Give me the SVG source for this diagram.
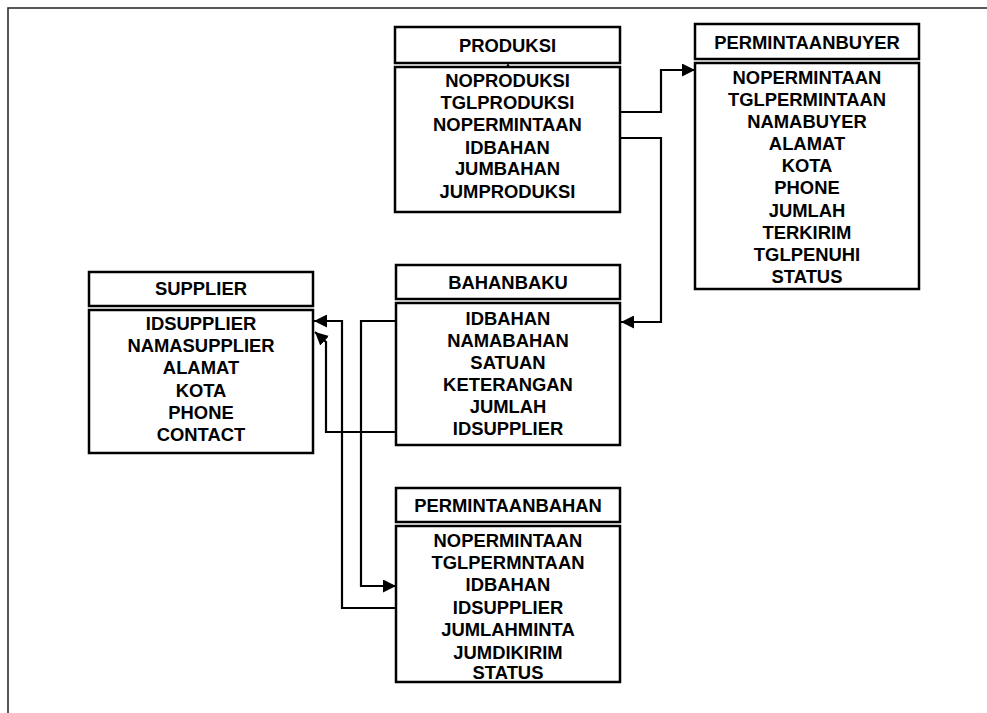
<svg xmlns="http://www.w3.org/2000/svg" width="987" height="713" viewBox="0 0 987 713">
<style>
.box{fill:#fff;stroke:#000;stroke-width:2.5}
.t{font-family:"Liberation Sans",Arial,sans-serif;font-weight:bold;font-size:18.4px;text-anchor:middle;fill:#000}
.c{fill:none;stroke:#000;stroke-width:2.2}
</style>
<defs>
<marker id="ah" markerUnits="userSpaceOnUse" markerWidth="13" markerHeight="13" refX="13" refY="6.5" orient="auto">
<path d="M0,0 L13,6.5 L0,13 z" fill="#000"/>
</marker>
</defs>
<rect width="987" height="713" fill="#fff"/>
<path d="M8,713 V8 H987" fill="none" stroke="#222" stroke-width="1.5"/>
<g id="connectors">
<path class="c" d="M620,112 H661 V70 H695" marker-end="url(#ah)"/>
<path class="c" d="M620,138 H661 V322 H621" marker-end="url(#ah)"/>
<path class="c" d="M396,608 H342 V321 H314" marker-end="url(#ah)"/>
<path class="c" d="M397,321 H361 V586 H396" marker-end="url(#ah)"/>
<path class="c" d="M397,432 H326 V342 L315,332" marker-end="url(#ah)"/>
<path d="M505,69 L511,69 L508,63 z" fill="#000"/>
</g>
<g id="produksi">
<rect class="box" x="395" y="27" width="225" height="36"/>
<rect class="box" x="395" y="67" width="225" height="145"/>
<text class="t" x="507.5" y="51.5">PRODUKSI</text>
<text class="t" x="507.5" y="86.5">NOPRODUKSI</text>
<text class="t" x="507.5" y="108.5">TGLPRODUKSI</text>
<text class="t" x="507.5" y="131">NOPERMINTAAN</text>
<text class="t" x="507.5" y="153.5">IDBAHAN</text>
<text class="t" x="507.5" y="175">JUMBAHAN</text>
<text class="t" x="507.5" y="197.5">JUMPRODUKSI</text>
</g>
<g id="permintaanbuyer">
<rect class="box" x="695" y="24" width="224" height="35"/>
<rect class="box" x="695" y="63" width="224" height="226"/>
<text class="t" x="807" y="48.5">PERMINTAANBUYER</text>
<text class="t" x="807" y="83.5">NOPERMINTAAN</text>
<text class="t" x="807" y="105.5">TGLPERMINTAAN</text>
<text class="t" x="807" y="127.5">NAMABUYER</text>
<text class="t" x="807" y="149.5">ALAMAT</text>
<text class="t" x="807" y="172">KOTA</text>
<text class="t" x="807" y="194">PHONE</text>
<text class="t" x="807" y="216.5">JUMLAH</text>
<text class="t" x="807" y="238.5">TERKIRIM</text>
<text class="t" x="807" y="260.5">TGLPENUHI</text>
<text class="t" x="807" y="283">STATUS</text>
</g>
<g id="supplier">
<rect class="box" x="89" y="272" width="224" height="34"/>
<rect class="box" x="89" y="310" width="224" height="143"/>
<text class="t" x="201" y="294.5">SUPPLIER</text>
<text class="t" x="201" y="329.5">IDSUPPLIER</text>
<text class="t" x="201" y="352">NAMASUPPLIER</text>
<text class="t" x="201" y="374">ALAMAT</text>
<text class="t" x="201" y="396.5">KOTA</text>
<text class="t" x="201" y="418.5">PHONE</text>
<text class="t" x="201" y="441">CONTACT</text>
</g>
<g id="bahanbaku">
<rect class="box" x="396" y="265" width="224" height="34"/>
<rect class="box" x="396" y="303" width="224" height="142"/>
<text class="t" x="508" y="288.5">BAHANBAKU</text>
<text class="t" x="508" y="324.5">IDBAHAN</text>
<text class="t" x="508" y="346.5">NAMABAHAN</text>
<text class="t" x="508" y="369">SATUAN</text>
<text class="t" x="508" y="390.5">KETERANGAN</text>
<text class="t" x="508" y="412.5">JUMLAH</text>
<text class="t" x="508" y="434.5">IDSUPPLIER</text>
</g>
<g id="permintaanbahan">
<rect class="box" x="396" y="488" width="224" height="34"/>
<rect class="box" x="396" y="526" width="224" height="156"/>
<text class="t" x="508" y="546.5">NOPERMINTAAN</text>
<text class="t" x="508" y="511.5">PERMINTAANBAHAN</text>
<text class="t" x="508" y="569">TGLPERMNTAAN</text>
<text class="t" x="508" y="591">IDBAHAN</text>
<text class="t" x="508" y="613.5">IDSUPPLIER</text>
<text class="t" x="508" y="636">JUMLAHMINTA</text>
<text class="t" x="508" y="658.5">JUMDIKIRIM</text>
<text class="t" x="508" y="678.5">STATUS</text>
</g>
</svg>
